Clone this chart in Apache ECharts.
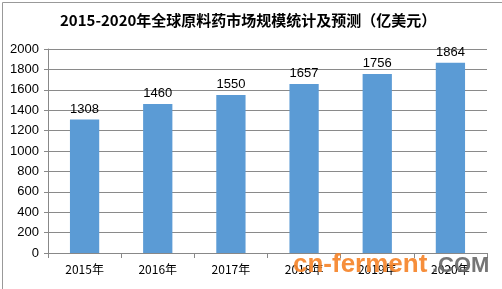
<!DOCTYPE html>
<html><head><meta charset="utf-8">
<script src="https://cdn.jsdelivr.net/npm/echarts@6/dist/echarts.min.js"></script>
<style>html,body{margin:0;padding:0;background:#fff}#c{width:502px;height:289px;}</style>
</head><body><div id="c"></div>
<script>
const categories = ['2015年','2016年','2017年','2018年','2019年','2020年'];
const values = [1308, 1460, 1550, 1657, 1756, 1864];
const title = '2015-2020年全球原料药市场规模统计及预测（亿美元）';
const chart = echarts.init(document.getElementById('c'));
chart.setOption({
  animation: false,
  backgroundColor: '#fff',
  title: {text: title, left: 55, top: 8, textStyle: {fontSize: 15, fontWeight: 'bold', color: '#000', fontFamily: 'Noto Sans CJK SC'}},
  grid: {left: 48, right: 15, top: 49, bottom: 36},
  xAxis: {type: 'category', data: categories,
    axisLine: {lineStyle: {color: '#888'}}, axisTick: {show: true, lineStyle: {color: '#888'}, length: 5},
    axisLabel: {color: '#000', fontSize: 12, margin: 10, fontFamily: 'Noto Sans CJK SC'}},
  yAxis: {type: 'value', min: 0, max: 2000, interval: 200,
    axisLine: {show: true, lineStyle: {color: '#888'}}, axisTick: {show: true, lineStyle: {color: '#888'}, length: 4},
    splitLine: {lineStyle: {color: '#8a8a8a'}},
    axisLabel: {color: '#000', fontSize: 13, margin: 9, fontFamily: 'Liberation Sans', formatter: v => String(v)}},
  series: [{type: 'bar', data: values, barWidth: '40%', itemStyle: {color: '#5b9bd5'},
    label: {show: true, position: 'top', color: '#000', fontSize: 13, fontFamily: 'Liberation Sans', distance: 4}}],
  graphic: [
    {type: 'rect', left: 0, top: 0, shape: {width: 501, height: 288}, style: {fill: 'none', stroke: '#999', lineWidth: 1}, silent: true},
    {type: 'text', left: 293, top: 252, style: {text: 'cn-ferment', fill: 'rgba(245,132,42,0.92)', font: 'bold 26px "Liberation Sans"'}, z: 100},
    {type: 'text', left: 432, top: 255, style: {text: '.COM', fill: 'rgba(105,105,105,0.92)', font: 'bold 22px "Liberation Sans"'}, z: 100}
  ]
});
</script></body></html>
